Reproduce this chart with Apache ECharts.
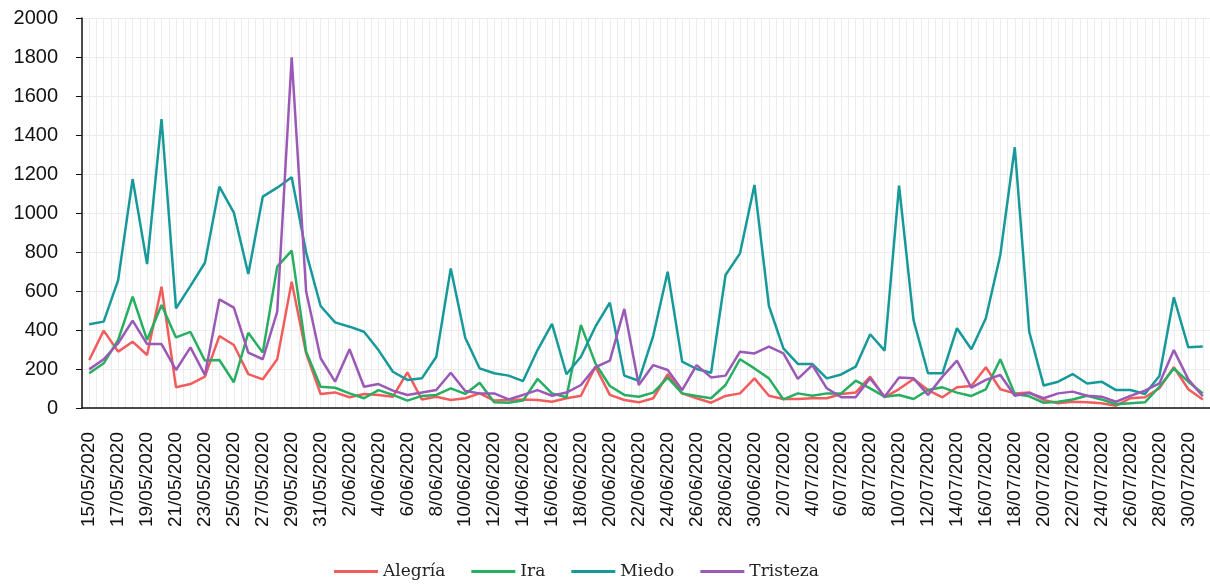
<!DOCTYPE html>
<html>
<head>
<meta charset="utf-8">
<script src="https://cdn.jsdelivr.net/npm/echarts@6/dist/echarts.min.js"></script>
<style>
  html, body { margin: 0; padding: 0; background: #fff; }
  #main { width: 1210px; height: 584px; }
</style>
</head>
<body>
<div id="main"></div>
<script>
const fechas = [
  '15/05/2020', '16/05/2020', '17/05/2020', '18/05/2020', '19/05/2020', '20/05/2020', '21/05/2020', '22/05/2020',
  '23/05/2020', '24/05/2020', '25/05/2020', '26/05/2020', '27/05/2020', '28/05/2020', '29/05/2020', '30/05/2020',
  '31/05/2020', '1/06/2020', '2/06/2020', '3/06/2020', '4/06/2020', '5/06/2020', '6/06/2020', '7/06/2020',
  '8/06/2020', '9/06/2020', '10/06/2020', '11/06/2020', '12/06/2020', '13/06/2020', '14/06/2020', '15/06/2020',
  '16/06/2020', '17/06/2020', '18/06/2020', '19/06/2020', '20/06/2020', '21/06/2020', '22/06/2020', '23/06/2020',
  '24/06/2020', '25/06/2020', '26/06/2020', '27/06/2020', '28/06/2020', '29/06/2020', '30/06/2020', '1/07/2020',
  '2/07/2020', '3/07/2020', '4/07/2020', '5/07/2020', '6/07/2020', '7/07/2020', '8/07/2020', '9/07/2020',
  '10/07/2020', '11/07/2020', '12/07/2020', '13/07/2020', '14/07/2020', '15/07/2020', '16/07/2020', '17/07/2020',
  '18/07/2020', '19/07/2020', '20/07/2020', '21/07/2020', '22/07/2020', '23/07/2020', '24/07/2020', '25/07/2020',
  '26/07/2020', '27/07/2020', '28/07/2020', '29/07/2020', '30/07/2020', '31/07/2020'
];

const alegria = [
  246, 397, 289, 340, 272, 622, 106, 123, 161, 369,
  323, 174, 147, 250, 648, 280, 72, 80, 55, 72,
  67, 58, 183, 44, 58, 41, 50, 75, 38, 41,
  44, 41, 32, 50, 63, 212, 67, 41, 29, 50,
  173, 75, 50, 27, 62, 75, 152, 63, 46, 46,
  50, 50, 72, 79, 161, 55, 97, 149, 92, 55,
  106, 113, 209, 96, 75, 80, 41, 24, 32, 29,
  24, 12, 50, 55, 101, 209, 96, 44
];
const ira = [
  178, 229, 349, 571, 349, 528, 362, 390, 243, 246,
  132, 386, 284, 725, 807, 289, 109, 104, 75, 50,
  92, 67, 38, 62, 67, 101, 72, 130, 29, 27,
  38, 149, 75, 55, 426, 229, 113, 67, 58, 79,
  156, 75, 62, 50, 118, 250, 203, 152, 44, 75,
  63, 75, 75, 140, 101, 58, 67, 46, 92, 106,
  79, 62, 96, 250, 72, 60, 27, 32, 44, 63,
  44, 19, 24, 29, 109, 203, 135, 75
];
const miedo = [
  429, 443, 656, 1174, 738, 1482, 511, 626, 745, 1135,
  1002, 687, 1084, 1130, 1183, 797, 523, 439, 417, 391,
  297, 186, 144, 152, 263, 716, 360, 203, 178, 166,
  138, 297, 431, 173, 263, 417, 540, 166, 140, 370,
  699, 238, 200, 181, 682, 793, 1144, 523, 306, 226,
  226, 152, 172, 212, 378, 294, 1140, 451, 178, 178,
  409, 301, 460, 785, 1337, 391, 115, 135, 174, 126,
  135, 92, 92, 72, 164, 568, 311, 315
];
const tristeza = [
  198, 250, 332, 448, 328, 328, 195, 311, 169, 557,
  515, 284, 250, 494, 1798, 597, 255, 135, 301, 109,
  123, 89, 67, 79, 92, 181, 87, 75, 75, 44,
  67, 92, 63, 79, 118, 209, 243, 508, 118, 220,
  195, 92, 220, 157, 166, 289, 280, 315, 280, 149,
  220, 101, 55, 55, 152, 58, 156, 152, 67, 161,
  243, 104, 144, 169, 63, 77, 50, 75, 84, 63,
  58, 32, 62, 89, 126, 297, 147, 60
];

const chart = echarts.init(document.getElementById('main'));

const fuenteEje = 'Liberation Sans, Arial, sans-serif';

const linea = (name, data, color) => ({
  name,
  type: 'line',
  data,
  xAxisIndex: 0,
  symbol: 'none',
  lineStyle: { width: 2.5, color },
  itemStyle: { color },
});

const option = {
  animation: false,
  grid: { left: 82, top: 18, width: 1131, height: 390, containLabel: false },
  legend: {
    top: 558,
    left: 329,
    icon: 'rect',
    itemWidth: 44,
    itemHeight: 3,
    itemGap: 26,
    textStyle: { fontFamily: 'DejaVu Serif', fontSize: 17, color: '#222' },
    data: ['Alegría', 'Ira', 'Miedo', 'Tristeza'],
  },
  xAxis: [
    {
      type: 'category',
      data: fechas,
      boundaryGap: true,
      axisLine: { onZero: false, lineStyle: { color: '#111', width: 1.5 } },
      axisTick: { interval: 0, length: 6, lineStyle: { color: '#111' } },
      axisLabel: { interval: 1, rotate: 90, margin: 24, fontSize: 19, fontFamily: fuenteEje, color: '#111' },
      splitLine: { show: false },
    },
    {
      // líneas de división cada medio día
      type: 'value',
      min: -0.5,
      max: 77.5,
      interval: 0.5,
      position: 'top',
      axisLine: { show: false },
      axisTick: { show: false },
      axisLabel: { show: false },
      splitLine: { show: true, lineStyle: { color: '#ececec', width: 1 } },
    },
  ],
  yAxis: {
    type: 'value',
    min: 0,
    max: 2000,
    interval: 200,
    axisLine: { show: true, onZero: false, lineStyle: { color: '#111', width: 1.5 } },
    axisTick: { show: true, length: 6, lineStyle: { color: '#111' } },
    axisLabel: { fontSize: 20, fontFamily: fuenteEje, color: '#111', margin: 24, formatter: v => String(v) },
    splitLine: { lineStyle: { color: '#ececec', width: 1 } },
  },
  series: [
    linea('Alegría', alegria, '#f25c5c'),
    linea('Ira', ira, '#27ae60'),
    linea('Miedo', miedo, '#17999a'),
    linea('Tristeza', tristeza, '#9b59b6'),
  ],
};

chart.setOption(option);
</script>
</body>
</html>
